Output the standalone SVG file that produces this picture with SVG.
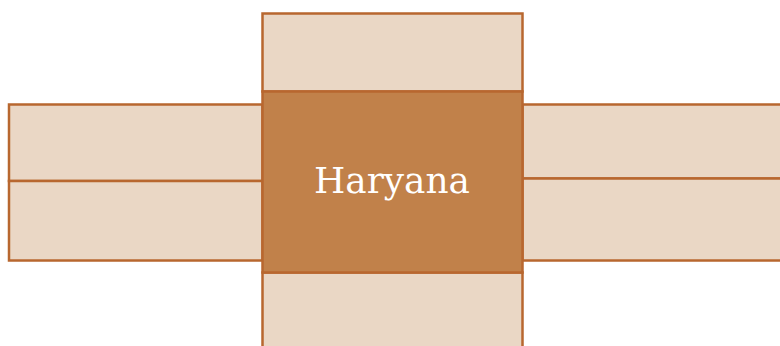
<svg xmlns="http://www.w3.org/2000/svg" width="780" height="346" viewBox="0 0 780 346">
<style>
.box{fill:#EAD7C5;stroke:#B8672F;stroke-width:2.5}
.hub{fill:#C1814A;stroke:#B8672F;stroke-width:2.5}
.lbl{font-family:"DejaVu Serif","Liberation Serif",serif;font-size:35px;fill:#FFFFFF;text-anchor:middle}
</style>
<rect width="780" height="346" fill="#FFFFFF"/>
<g id="connectors"></g>
<g id="top"><rect class="box" x="262.5" y="13.5" width="260" height="78"/></g>
<g id="bottom"><rect class="box" x="262.5" y="272.5" width="260" height="80"/></g>
<g id="left-top"><rect class="box" x="9" y="104.5" width="253.5" height="76.5"/></g>
<g id="left-bottom"><rect class="box" x="9" y="181" width="253.5" height="79.5"/></g>
<g id="right-top"><rect class="box" x="522.5" y="104.5" width="265" height="74"/></g>
<g id="right-bottom"><rect class="box" x="522.5" y="178.5" width="265" height="82"/></g>
<g id="haryana"><rect class="hub" x="262.5" y="91.5" width="260" height="181"/>
<text class="lbl" x="392" y="193" textLength="156" lengthAdjust="spacingAndGlyphs">Haryana</text></g>
</svg>
